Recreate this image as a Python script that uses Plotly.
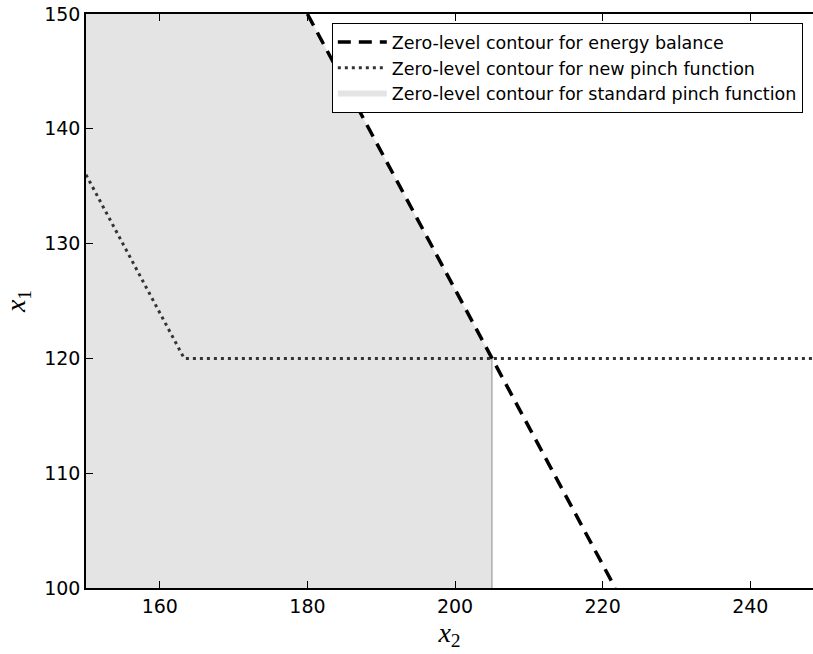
import plotly.graph_objects as go

# Zero-level contour of the energy balance (x2 along, x1 up)
energy_x2 = [180.0, 205.0, 221.7]
energy_x1 = [150.0, 120.0, 100.0]

# Zero-level contour of the new pinch function
new_pinch_x2 = [150.0, 163.3, 250.0]
new_pinch_x1 = [136.0, 120.0, 120.0]

# Region enclosed by the standard pinch function's zero-level contour
std_pinch_x2 = [150.0, 150.0, 180.0, 205.0, 205.0, 150.0]
std_pinch_x1 = [100.0, 150.0, 150.0, 120.0, 100.0, 100.0]

# Visible edge of that region along x2 = 205
std_edge_x2 = [205.0, 205.0]
std_edge_x1 = [120.0, 100.0]

x_ticks = [160, 180, 200, 220, 240]
y_ticks = [100, 110, 120, 130, 140, 150]

fig = go.Figure()

fig.add_trace(go.Scatter(
    x=std_pinch_x2, y=std_pinch_x1, mode="none", fill="toself",
    fillcolor="#e4e4e4",
    name="Zero-level contour for standard pinch function", legendrank=3,
))
fig.add_trace(go.Scatter(
    x=std_edge_x2, y=std_edge_x1, mode="lines",
    line=dict(color="#8c8c8c", width=1), showlegend=False, hoverinfo="skip",
))
fig.add_trace(go.Scatter(
    x=new_pinch_x2, y=new_pinch_x1, mode="lines",
    line=dict(color="#333333", width=3, dash="3px,4px"),
    name="Zero-level contour for new pinch function", legendrank=2,
))
fig.add_trace(go.Scatter(
    x=energy_x2, y=energy_x1, mode="lines",
    line=dict(color="black", width=3.5, dash="13px,8px"),
    name="Zero-level contour for energy balance", legendrank=1,
))

fig.update_layout(
    width=813, height=654,
    margin=dict(l=86, r=0, t=14, b=66),
    plot_bgcolor="white", paper_bgcolor="white",
    font=dict(family="DejaVu Sans", color="black"),
    legend=dict(
        x=0.986, y=0.984, xanchor="right", yanchor="top",
        bordercolor="black", borderwidth=1, bgcolor="white",
        font=dict(size=17.5, family="DejaVu Sans"),
        tracegroupgap=0, itemwidth=49,
    ),
    xaxis=dict(
        range=[150, 248.5], tickvals=x_ticks, ticktext=[str(v) for v in x_ticks],
        showgrid=False, zeroline=False, showline=True, linecolor="black",
        linewidth=1.5, mirror="ticks", ticks="inside", ticklen=7,
        tickcolor="black", tickfont=dict(size=19),
        title=dict(text="<i>x</i><sub>2</sub>",
                   font=dict(family="Liberation Serif", size=28), standoff=4),
    ),
    yaxis=dict(
        range=[100, 150], tickvals=y_ticks, ticktext=[str(v) for v in y_ticks],
        showgrid=False, zeroline=False, showline=True, linecolor="black",
        linewidth=1.5, mirror=False, ticks="inside", ticklen=7,
        tickcolor="black", tickfont=dict(size=19),
        title=dict(text="<i>x</i><sub>1</sub>",
                   font=dict(family="Liberation Serif", size=28), standoff=10),
    ),
)

fig.write_html("out.html")
